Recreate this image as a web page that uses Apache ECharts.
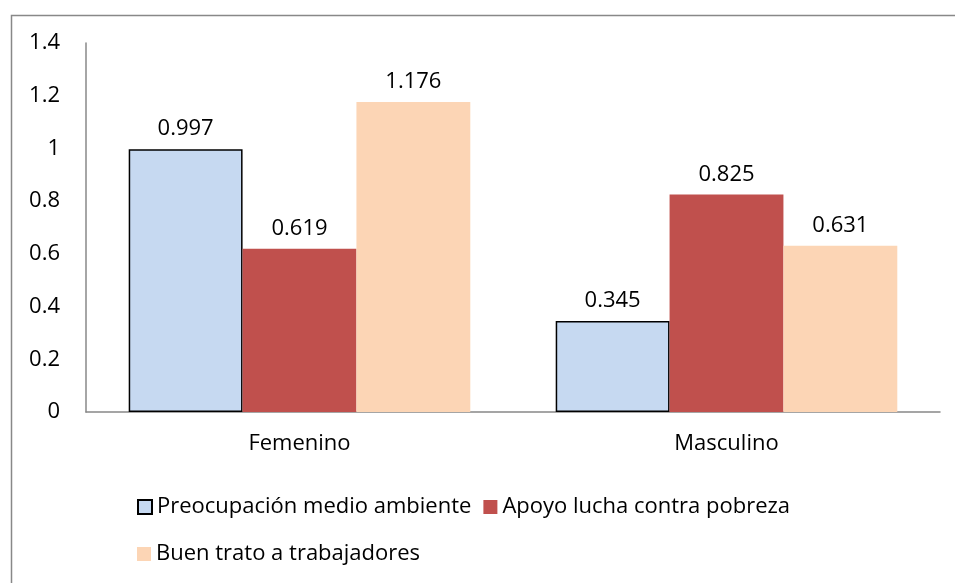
<!DOCTYPE html>
<html>
<head>
<meta charset="utf-8">
<script src="https://cdn.jsdelivr.net/npm/echarts@6/dist/echarts.min.js"></script>
<style>
  html, body { margin: 0; padding: 0; background: #fff; }
  #chart { width: 955px; height: 583px; }
</style>
</head>
<body>
<div id="chart"></div>
<script>
var categories = ['Femenino', 'Masculino'];
var seriesNames = ['Preocupación medio ambiente', 'Apoyo lucha contra pobreza', 'Buen trato a trabajadores'];
var medioAmbiente = [0.997, 0.345];
var luchaPobreza = [0.619, 0.825];
var buenTrato = [1.176, 0.631];
var yTicks = [0, 0.2, 0.4, 0.6, 0.8, 1, 1.2, 1.4];

var font = 'Open Sans';
var fs = 22;
var chart = echarts.init(document.getElementById('chart'));

var label = {
  show: true,
  position: 'top',
  distance: 9,
  color: '#000',
  fontFamily: font,
  fontSize: fs
};

var option = {
  animation: false,
  textStyle: { fontFamily: font },
  graphic: [{
    type: 'rect',
    left: 9, top: 13,
    shape: { width: 1000, height: 700 },
    style: { fill: 'none', stroke: '#888', lineWidth: 1.5 },
    silent: true
  }],
  grid: { left: 86, right: 15, top: 43, bottom: 171, containLabel: false },
  legend: [{
    left: 132, top: 491,
    icon: 'rect',
    itemWidth: 14, itemHeight: 14, itemGap: 12,
    textStyle: { fontFamily: font, fontSize: fs, color: '#000' },
    data: [seriesNames[0], seriesNames[1]]
  }, {
    left: 132, top: 538,
    icon: 'rect',
    itemWidth: 14, itemHeight: 14, itemGap: 12,
    textStyle: { fontFamily: font, fontSize: fs, color: '#000' },
    data: [seriesNames[2]]
  }],
  xAxis: {
    type: 'category',
    data: categories,
    axisLine: { lineStyle: { color: '#888', width: 1.5 } },
    axisTick: { show: false },
    axisLabel: { color: '#000', fontFamily: font, fontSize: fs, margin: 21 }
  },
  yAxis: {
    type: 'value',
    min: yTicks[0],
    max: yTicks[yTicks.length - 1],
    interval: 0.2,
    axisLine: { show: true, lineStyle: { color: '#888', width: 1.5 } },
    axisTick: { show: false },
    splitLine: { show: false },
    axisLabel: {
      color: '#000', fontFamily: font, fontSize: fs, margin: 26,
      formatter: function (v) { return String(Math.round(v * 10) / 10); }
    }
  },
  series: [{
    name: seriesNames[0],
    type: 'bar',
    data: medioAmbiente,
    barGap: '0%',
    barCategoryGap: '20%',
    itemStyle: { color: '#C6D9F1', borderColor: '#000', borderWidth: 1.5 },
    label: label
  }, {
    name: seriesNames[1],
    type: 'bar',
    data: luchaPobreza,
    itemStyle: { color: '#C0504D' },
    label: label
  }, {
    name: seriesNames[2],
    type: 'bar',
    data: buenTrato,
    itemStyle: { color: '#FCD5B5' },
    label: label
  }]
};

chart.setOption(option);
</script>
</body>
</html>
